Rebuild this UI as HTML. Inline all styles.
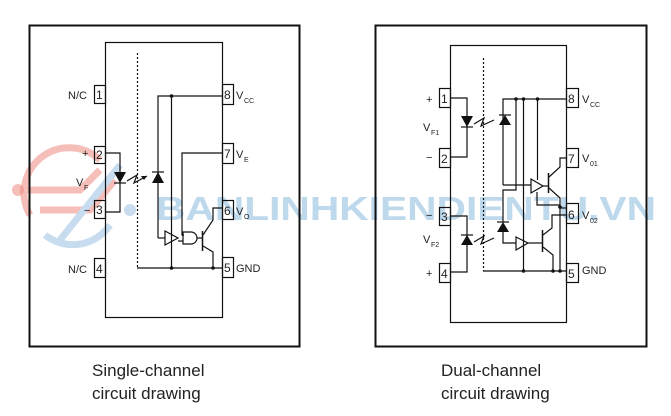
<!DOCTYPE html>
<html><head><meta charset="utf-8"><style>
html,body{margin:0;padding:0;background:#fff;}
svg{display:block;}
text{font-family:"Liberation Sans",Arial,sans-serif;fill:#222;}
</style></head><body>
<svg width="671" height="416" viewBox="0 0 671 416" xmlns="http://www.w3.org/2000/svg">
<rect width="671" height="416" fill="#fff"/>
<g opacity="0.55" fill="none" stroke="#f08a80" stroke-width="7">
  <path d="M30 215 A45 45 0 0 1 100 160"/>
  <path d="M45 235 A45 45 0 0 0 110 225" stroke="#9cc0e4"/>
  <path d="M20 190 L80 190 L100 170"/>
  <path d="M40 210 L90 210 L115 180"/>
  <path d="M60 240 L120 165" stroke="#9cc0e4"/>
</g>
<g opacity="0.55">
<circle cx="18" cy="190" r="6" fill="#f08a80"/>
<circle cx="130" cy="210" r="6" fill="#9cc0e4"/>
</g>
<text x="156" y="220" font-size="33" font-weight="bold" textLength="500" lengthAdjust="spacingAndGlyphs" style="fill:#a9cbe6;opacity:0.75">BANLINHKIENDIENTU.VN</text>

<g fill="none" stroke="#111" stroke-width="1.2">
<rect x="29.5" y="25.5" width="270" height="321" stroke-width="2"/>
<rect x="105.5" y="42.5" width="117" height="275"/>
<rect x="94.5" y="85.5" width="11" height="18"/>
<rect x="94.5" y="146.5" width="11" height="17"/>
<rect x="94.5" y="200.5" width="11" height="18"/>
<rect x="94.5" y="258.5" width="11" height="19"/>
<rect x="222.5" y="84.5" width="11" height="20"/>
<rect x="222.5" y="143.5" width="11" height="20"/>
<rect x="222.5" y="200.5" width="11" height="19"/>
<rect x="222.5" y="257.5" width="11" height="20"/>
<line x1="137.5" y1="53" x2="137.5" y2="268" stroke-dasharray="2,2"/>
<polyline points="105,153 120,153 120,212 105,212"/>
<line x1="114" y1="183" x2="126" y2="183"/>
<polyline points="127,181 137,175 134,183 147,176"/>
<line x1="152" y1="172" x2="164" y2="172"/>
<polyline points="158,238 158,96 222,96"/>
<line x1="171.5" y1="96" x2="171.5" y2="268"/>
<polyline points="158,238 165,238"/>
<path d="M165 231 L178 238 L165 245 Z"/>
<polyline points="222,153 182,153 182,235 184,235"/>
<path d="M183 232 L191 232 A6 6 0 0 1 191 244 L183 244 Z"/>
<line x1="183" y1="241" x2="178" y2="241"/>
<line x1="197" y1="238" x2="202" y2="238"/>
<line x1="202.5" y1="231" x2="202.5" y2="251" stroke-width="1.5"/>
<polyline points="203,235 213,220 213,208 222,208"/>
<polyline points="203,246 213,252 213,268"/>
<line x1="137" y1="268" x2="222" y2="268"/>
<rect x="375.5" y="25.5" width="271" height="321" stroke-width="2"/>
<rect x="450.5" y="45.5" width="116" height="277"/>
<rect x="439.5" y="88.5" width="11" height="19"/>
<rect x="439.5" y="148.5" width="11" height="19"/>
<rect x="439.5" y="207.5" width="11" height="18"/>
<rect x="439.5" y="263.5" width="11" height="19"/>
<rect x="566.5" y="88.5" width="12" height="19"/>
<rect x="566.5" y="148.5" width="12" height="19"/>
<rect x="566.5" y="203.5" width="12" height="20"/>
<rect x="566.5" y="263.5" width="12" height="19"/>
<line x1="483.5" y1="58" x2="483.5" y2="271" stroke-dasharray="2,2"/>
<polyline points="450,98 467,98 467,157 450,157"/>
<line x1="461" y1="127" x2="473" y2="127"/>
<polyline points="474,124 484,118 481,126 494,120"/>
<line x1="499" y1="115" x2="511" y2="115"/>
<polyline points="450,216 467,216 467,272 450,272"/>
<line x1="461" y1="235" x2="473" y2="235"/>
<polyline points="474,242 484,236 481,244 494,238"/>
<line x1="497" y1="222" x2="509" y2="222"/>
<polyline points="503,185 503,99 566,99"/>
<line x1="503" y1="185" x2="531" y2="185"/>
<polyline points="516,99 516,190 503,190 503,222"/>
<polyline points="503,232 503,243 516,243"/>
<line x1="523.5" y1="99" x2="523.5" y2="271"/>
<line x1="537.5" y1="99" x2="537.5" y2="180"/>
<polyline points="537,192 537,205 560,205"/>
<path d="M531 179 L543 186 L531 193 Z"/>
<line x1="543" y1="186" x2="548" y2="186"/>
<line x1="548.5" y1="173" x2="548.5" y2="193" stroke-width="1.5"/>
<polyline points="549,177 560,167 560,158 566,158"/>
<polyline points="549,188 560,198 560,271"/>
<line x1="560" y1="208" x2="566" y2="208"/>
<path d="M516 237 L528 243 L516 250 Z"/>
<line x1="528" y1="243" x2="542" y2="243"/>
<line x1="542.5" y1="230" x2="542.5" y2="252" stroke-width="1.5"/>
<polyline points="543,235 552,228 552,215 566,215"/>
<polyline points="543,247 553,255 553,271"/>
<line x1="483" y1="271" x2="566" y2="271"/>
</g>
<g fill="#111">
<path d="M114 172 L126 172 L120 183 Z"/>
<path d="M158 172 L152 183 L164 183 Z"/>
<path d="M147 176 L141 176 L144 180 Z"/>
<circle cx="171.5" cy="96" r="1.8"/><circle cx="171.5" cy="268" r="1.8"/><circle cx="213" cy="268" r="1.8"/>
<path d="M461 116 L473 116 L467 127 Z"/>
<path d="M505 115 L499 125 L511 125 Z"/>
<path d="M461 245 L473 245 L467 235 Z"/>
<path d="M503 222 L497 232 L509 232 Z"/>
<circle cx="516" cy="99" r="1.8"/><circle cx="523.5" cy="99" r="1.8"/><circle cx="537.5" cy="99" r="1.8"/>
<circle cx="560" cy="207" r="1.8"/>
<circle cx="523.5" cy="271" r="1.8"/><circle cx="553" cy="271" r="1.8"/><circle cx="560" cy="271" r="1.8"/>
</g>
<g font-size="11">
<text x="96" y="99" font-size="12">1</text><text x="96" y="159" font-size="12">2</text>
<text x="96" y="214" font-size="12">3</text><text x="96" y="273" font-size="12">4</text>
<text x="224" y="99" font-size="12">8</text><text x="224" y="158" font-size="12">7</text>
<text x="224" y="215" font-size="12">6</text><text x="224" y="272" font-size="12">5</text>
<text x="68" y="99">N/C</text><text x="68" y="273">N/C</text>
<text x="82" y="157">+</text><text x="84" y="214">−</text>
<text x="76" y="186">V</text><text x="84" y="190" font-size="7">F</text>
<text x="236" y="99">V</text><text x="244" y="103" font-size="7">CC</text>
<text x="236" y="158">V</text><text x="244" y="162" font-size="7">E</text>
<text x="236" y="215">V</text><text x="244" y="219" font-size="7">O</text>
<text x="236" y="272">GND</text>
<text x="441" y="103" font-size="12">1</text><text x="441" y="163" font-size="12">2</text>
<text x="441" y="221" font-size="12">3</text><text x="441" y="278" font-size="12">4</text>
<text x="568" y="103" font-size="12">8</text><text x="568" y="163" font-size="12">7</text>
<text x="568" y="219" font-size="12">6</text><text x="568" y="278" font-size="12">5</text>
<text x="426" y="103">+</text><text x="426" y="161">−</text>
<text x="426" y="219">−</text><text x="426" y="277">+</text>
<text x="423" y="131">V</text><text x="431" y="135" font-size="7">F1</text>
<text x="423" y="243">V</text><text x="431" y="247" font-size="7">F2</text>
<text x="582" y="103">V</text><text x="590" y="107" font-size="7">CC</text>
<text x="582" y="162">V</text><text x="590" y="166" font-size="7">01</text>
<text x="582" y="219">V</text><text x="590" y="223" font-size="7">02</text>
<text x="582" y="274">GND</text>
</g>
<g font-size="17">
<text x="92" y="376">Single-channel</text>
<text x="92" y="399">circuit drawing</text>
<text x="441" y="376">Dual-channel</text>
<text x="441" y="399">circuit drawing</text>
</g>
</svg>
</body></html>
